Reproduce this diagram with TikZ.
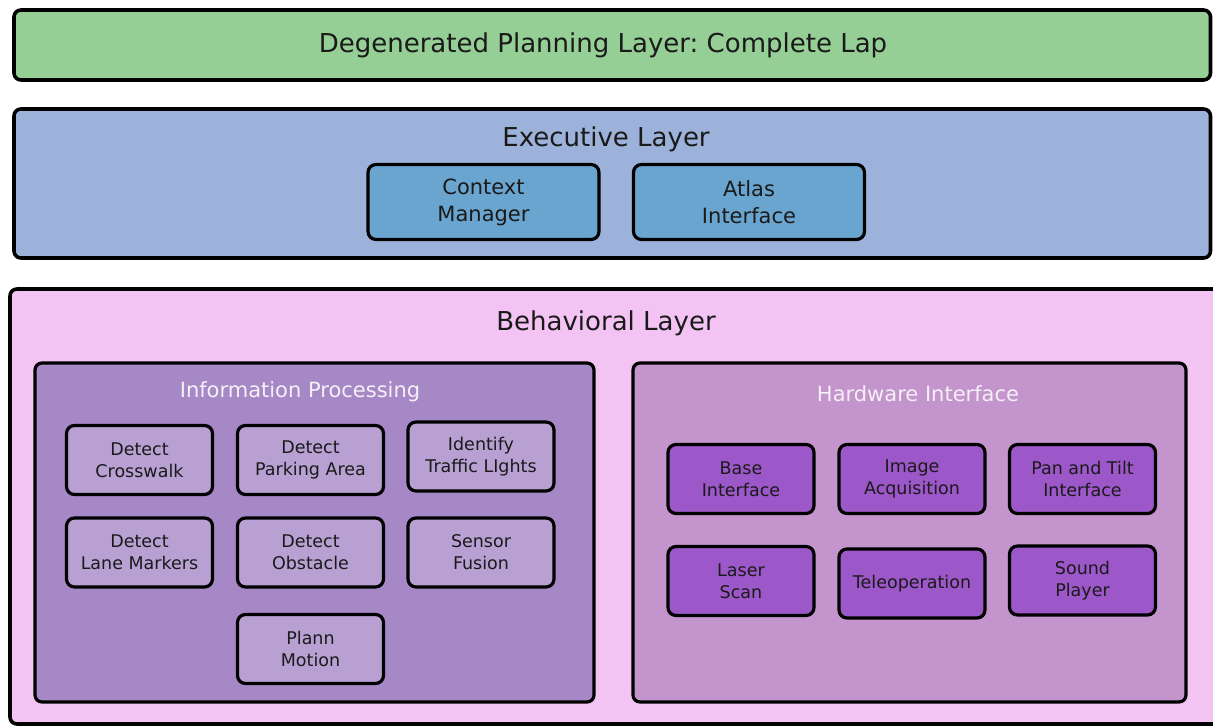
\documentclass[tikz,border=0pt]{standalone}
\usepackage{fontspec}
\setmainfont{DejaVu Sans}
\usetikzlibrary{positioning}
\frenchspacing

\definecolor{planfill}{HTML}{95CF95}
\definecolor{execfill}{HTML}{9DB2DA}
\definecolor{execbox}{HTML}{6AA5CF}
\definecolor{behfill}{HTML}{F3C4F3}
\definecolor{infofill}{HTML}{A688C6}
\definecolor{infobox}{HTML}{B8A0D3}
\definecolor{hwfill}{HTML}{C494CC}
\definecolor{hwbox}{HTML}{9C57C8}
\definecolor{txt}{HTML}{1A1A1A}
\definecolor{headtxt}{HTML}{F4F0F6}

\tikzset{
  layer/.style={draw=black, line width=3.6pt, rounded corners=7pt},
  group/.style={draw=black, line width=3.2pt, rounded corners=7pt},
  module/.style={draw=black, line width=3.2pt, rounded corners=8pt, align=center,
    text=txt, inner sep=0pt},
  smallmod/.style={module, font=\fontsize{17.5}{22}\selectfont},
  bigmod/.style={module, font=\fontsize{21}{27}\selectfont},
  layertitle/.style={text=txt, font=\fontsize{26}{31}\selectfont, inner sep=0pt},
  grouptitle/.style={text=headtxt, font=\fontsize{21}{25}\selectfont, inner sep=0pt},
}

\begin{document}
\begin{tikzpicture}[x=1pt, y=-1pt]
\useasboundingbox (0,0) rectangle (1213,727);

% layers
\draw[layer, fill=planfill] (14,10) rectangle (1210.5,80);
\node[layertitle] (plan) at (603,45) {Degenerated Planning Layer: Complete Lap};

\draw[layer, fill=execfill] (14,109) rectangle (1210.5,258);
\node[layertitle] (exec) at (606,139) {Executive Layer};
\node[bigmod, fill=execbox, minimum width=231pt, minimum height=75pt] (ctx) at (483.5,202) {Context\\Manager};
\node[bigmod, fill=execbox, minimum width=231pt, minimum height=75pt] (atlas) at (749,202) {Atlas\\Interface};

\draw[layer, fill=behfill] (10,289) rectangle (1225,724);
\node[layertitle] (beh) at (606,323) {Behavioral Layer};

% information processing group
\draw[group, fill=infofill] (35,363) rectangle (594,702);
\node[grouptitle] (info) at (300,392) {Information Processing};
\node[smallmod, fill=infobox, minimum width=146pt, minimum height=69pt] (crosswalk) at (139.5,460) {Detect\\Crosswalk};
\node[smallmod, fill=infobox, minimum width=146pt, minimum height=69pt] (parking) at (310.5,460) {Detect\\Parking Area};
\node[smallmod, fill=infobox, minimum width=146pt, minimum height=69pt] (lights) at (481,456.5) {Identify\\Traffic LIghts};
\node[smallmod, fill=infobox, minimum width=146pt, minimum height=69pt] (lanes) at (139.5,552.5) {Detect\\Lane Markers};
\node[smallmod, fill=infobox, minimum width=146pt, minimum height=69pt] (obstacle) at (310.5,552.5) {Detect\\Obstacle};
\node[smallmod, fill=infobox, minimum width=146pt, minimum height=69pt] (fusion) at (481,552.5) {Sensor\\Fusion};
\node[smallmod, fill=infobox, minimum width=146pt, minimum height=69pt] (motion) at (310.5,649) {Plann\\Motion};

% hardware interface group
\draw[group, fill=hwfill] (633,363) rectangle (1186,702);
\node[grouptitle] (hw) at (918,394) {Hardware Interface};
\node[smallmod, fill=hwbox, minimum width=146pt, minimum height=69pt] (base) at (741,479) {Base\\Interface};
\node[smallmod, fill=hwbox, minimum width=146pt, minimum height=69pt] (image) at (912,479) {Image\\Acquisition};
\node[smallmod, fill=hwbox, minimum width=146pt, minimum height=69pt] (pantilt) at (1082.5,479) {Pan and Tilt\\Interface};
\node[smallmod, fill=hwbox, minimum width=146pt, minimum height=69pt] (laser) at (741,581) {Laser\\Scan};
\node[smallmod, fill=hwbox, minimum width=146pt, minimum height=69pt] (teleop) at (912,583.5) {Teleoperation};
\node[smallmod, fill=hwbox, minimum width=146pt, minimum height=69pt] (sound) at (1082.5,580.5) {Sound\\Player};
\end{tikzpicture}
\end{document}
